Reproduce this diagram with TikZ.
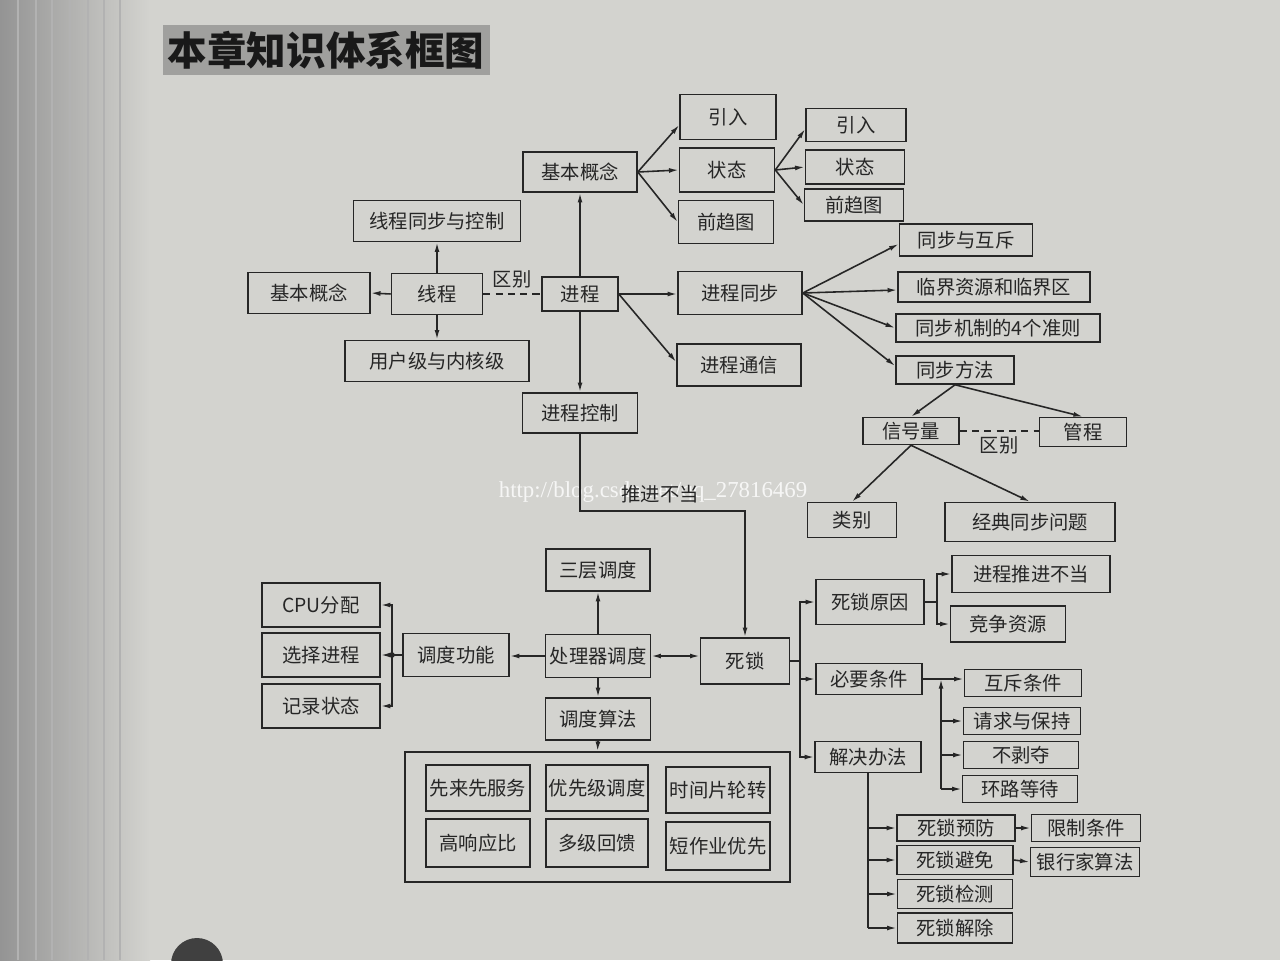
\documentclass[tikz,border=0pt]{standalone}
\usepackage{fontspec}
\setmainfont{Noto Sans CJK SC}
\newfontfamily\wmfont{Liberation Serif}
\usetikzlibrary{arrows.meta,calc}
\definecolor{bgc}{HTML}{D3D3CF}
\definecolor{ink}{HTML}{262626}
\definecolor{titlebg}{HTML}{A0A09E}
\begin{document}
\begin{tikzpicture}[x=0.02cm,y=-0.02cm,
  bx/.style 2 args={draw=ink,line width=0.9pt,inner sep=0pt,minimum width=#1*0.02cm,minimum height=#2*0.02cm,font=\fontsize{11}{13}\selectfont,text=ink},
  con/.style={draw=ink,line width=0.9pt},
  arr/.style={con,-{Latex[length=5.5pt,width=2.8pt]}},
  arrb/.style={con,{Latex[length=5.5pt,width=2.8pt]}-{Latex[length=5.5pt,width=2.8pt]}},
  dsh/.style={con,dash pattern=on 4pt off 3pt},
  lbl/.style={font=\fontsize{11}{13}\selectfont,text=ink,inner sep=1pt},
]
% background
\fill[bgc] (0,0) rectangle (1280,960);
\useasboundingbox (0,0) rectangle (1280,960);
\shade[left color=black!42, right color=bgc] (0,0) rectangle (150,960);
\foreach \xx in {18,36,52,70,88,104,120}{\draw[black!30,line width=0.6pt] (\xx,0) -- (\xx,960);}
\fill[black!75] (197,964) circle[radius=26];

% title
\node[fill=titlebg,inner sep=0pt,minimum width=327*0.02cm,minimum height=50*0.02cm,font=\fontsize{22.5}{24}\selectfont\bfseries,text=black!90] (title) at (326,50) {本章知识体系框图};

% process part
\node[bx={114}{40}] (jb) at (580,172) {基本概念};
\node[bx={96}{45}] (yr1) at (728,117) {引入};
\node[bx={95}{44}] (zt1) at (727,170) {状态};
\node[bx={95}{43}] (qq1) at (726,222) {前趋图};
\node[bx={100}{33}] (yr2) at (856,125) {引入};
\node[bx={99}{34}] (zt2) at (855,167) {状态};
\node[bx={99}{32}] (qq2) at (854,205) {前趋图};
\node[bx={167}{41}] (xtk) at (437,221) {线程同步与控制};
\node[bx={122}{41}] (jbl) at (309,293) {基本概念};
\node[bx={91}{41}] (xc) at (437,294) {线程};
\node[bx={76}{34}] (jc) at (580,294) {进程};
\node[bx={184}{41}] (yh) at (437,361) {用户级与内核级};
\node[bx={124}{43}] (jtb) at (740,293) {进程同步};
\node[bx={124}{42}] (jtx) at (739,365) {进程通信};
\node[bx={133}{32}] (hc) at (966,240) {同步与互斥};
\node[bx={192}{30}] (lj) at (994,287) {临界资源和临界区};
\node[bx={204}{28}] (zz) at (998,328) {同步机制的4个准则};
\node[bx={118}{28}] (ff) at (955,370) {同步方法};
\node[bx={115}{40}] (jk) at (580,413) {进程控制};
\node[bx={96}{27}] (xhl) at (911,431) {信号量};
\node[bx={87}{29}] (gc) at (1083,432) {管程};
\node[bx={89}{35}] (lb) at (852,520) {类别};
\node[bx={170}{39}] (jd) at (1030,522) {经典同步问题};

% scheduling part
\node[bx={104}{42}] (scdd) at (598,570) {三层调度};
\node[bx={118}{44}] (cpu) at (321,605) {CPU分配};
\node[bx={118}{44}] (xzjc) at (321,655) {选择进程};
\node[bx={118}{44}] (jlzt) at (321,706) {记录状态};
\node[bx={106}{43}] (ddgn) at (456,655) {调度功能};
\node[bx={105}{43}] (clq) at (598,656) {处理器调度};
\node[bx={89}{46}] (sl) at (745,661) {死锁};
\node[bx={105}{42}] (ddsf) at (598,719) {调度算法};
\node[draw=ink,line width=0.9pt,inner sep=0pt,minimum width=385*0.02cm,minimum height=130*0.02cm] (ctr) at (597.5,817) {};
\node[bx={104}{46}] (a1) at (478,788) {先来先服务};
\node[bx={102}{46}] (a2) at (597,788) {优先级调度};
\node[bx={104}{46}] (a3) at (718,790) {时间片轮转};
\node[bx={104}{48}] (b1) at (478,843) {高响应比};
\node[bx={102}{48}] (b2) at (597,843) {多级回馈};
\node[bx={104}{48}] (b3) at (718,846) {短作业优先};

% deadlock part
\node[bx={158}{37}] (tjbd) at (1031,574) {进程推进不当};
\node[bx={108}{45}] (syy) at (870,602) {死锁原因};
\node[bx={115}{36}] (jzzy) at (1008,624) {竞争资源};
\node[bx={106}{31}] (bytj) at (869,679) {必要条件};
\node[bx={117}{27}] (hcj) at (1023,683) {互斥条件};
\node[bx={117}{27}] (qqbc) at (1022,721) {请求与保持};
\node[bx={115}{27}] (bbd) at (1021,755) {不剥夺};
\node[bx={115}{27}] (hldd) at (1020,789) {环路等待};
\node[bx={106}{31}] (jjbf) at (868,757) {解决办法};
\node[bx={118}{26}] (slyf) at (956,828) {死锁预防};
\node[bx={116}{29}] (slbm) at (955,860) {死锁避免};
\node[bx={115}{29}] (sljc) at (955,894) {死锁检测};
\node[bx={115}{30}] (sljx) at (955,928) {死锁解除};
\node[bx={109}{27}] (xztj) at (1086,828) {限制条件};
\node[bx={109}{29}] (yhj) at (1085,862) {银行家算法};

% connectors: process
\draw[arr] (jc.north) -- (jb.south);
\draw[arr] (jb.east) -- ($(yr1.west)+(0,8)$);
\draw[arr] (jb.east) -- (zt1.west);
\draw[arr] (jb.east) -- (qq1.west);
\draw[arr] (zt1.east) -- ($(yr2.west)+(0,4)$);
\draw[arr] (zt1.east) -- (zt2.west);
\draw[arr] (zt1.east) -- (qq2.west);
\draw[arr] (xc.north) -- (xtk.south);
\draw[arr] (xc.west) -- (jbl.east);
\draw[arr] (xc.south) -- (yh.north);
\draw[dsh] (xc.east) -- (jc.west) node[lbl,midway,above=2pt] (qb1) {区别};
\draw[arr] (jc.east) -- (jtb.west |- jc.east);
\draw[arr] (jc.east) -- ($(jtx.west)+(0,-3)$);
\draw[arr] (jc.south) -- (jk.north);
\draw[arr] (jtb.east) -- ($(hc.west)+(0,4)$);
\draw[arr] (jtb.east) -- ($(lj.west)+(0,3)$);
\draw[arr] (jtb.east) -- (zz.west);
\draw[arr] (jtb.east) -- ($(ff.west)+(0,-4)$);
\draw[arr] (ff.south) -- (xhl.north);
\draw[arr] (ff.south) -- (gc.north);
\draw[dsh] (xhl.east) -- (gc.west |- xhl.east) node[lbl,midway,below=2pt] (qb2) {区别};
\draw[arr] (xhl.south) -- (lb.north);
\draw[arr] (xhl.south) -- (jd.north);

% watermark
\node[text=white,opacity=0.8,font=\wmfont\fontsize{13}{15}\selectfont,inner sep=0pt] (wm) at (653,492) {http://blog.csdn.net/qq\_27816469};

\coordinate (tk) at (745,511);
\draw[arr] (jk.south) |- (tk) -- (sl.north);
\node[lbl] (tjl) at (660,494) {推进不当};

% connectors: scheduling
\draw[arr] (clq.north) -- (scdd.south);
\draw[arr] (clq.west) -- (clq.west -| ddgn.east);
\draw[arrb] (clq.east) -- (clq.east -| sl.west);
\draw[arr] (clq.south) -- (ddsf.north);
\draw[arr] (ddsf.south) -- (ctr.north);
\coordinate (fj) at (392,655);
\draw[con] (ddgn.west) -- (fj);
\fill[ink] (fj) circle[radius=1.6pt];
\draw[arr] (fj) |- (cpu.east);
\draw[arr] (fj) -- (xzjc.east);
\draw[arr] (fj) |- (jlzt.east);

% connectors: deadlock
\coordinate (dj) at (800,661);
\draw[con] (sl.east) -- (dj);
\draw[arr] (dj) |- (syy.west);
\draw[arr] (dj) |- (bytj.west);
\draw[arr] (dj) |- (jjbf.west);
\coordinate (yj) at (937,602);
\draw[con] (syy.east) -- (yj);
\draw[arr] (yj) |- (tjbd.west);
\draw[arr] (yj) |- (jzzy.west);
\draw[arr] (bytj.east) -- (bytj.east -| hcj.west);
\coordinate (bj) at (941,679);
\draw[arr] (bj |- hldd.west) -- (bj);
\draw[arr] (bj |- qqbc.west) -- (qqbc.west);
\draw[arr] (bj |- bbd.west) -- (bbd.west);
\draw[arr] (bj |- hldd.west) -- (hldd.west);
\draw[con] (jjbf.south) -- (jjbf.south |- sljx.west);
\draw[arr] (jjbf.south |- slyf.west) -- (slyf.west);
\draw[arr] (jjbf.south |- slbm.west) -- (slbm.west);
\draw[arr] (jjbf.south |- sljc.west) -- (sljc.west);
\draw[arr] (jjbf.south |- sljx.west) -- (sljx.west);
\draw[arr] (slyf.east) -- (xztj.west);
\draw[arr] (slbm.east) -- (yhj.west);
\end{tikzpicture}
\end{document}
